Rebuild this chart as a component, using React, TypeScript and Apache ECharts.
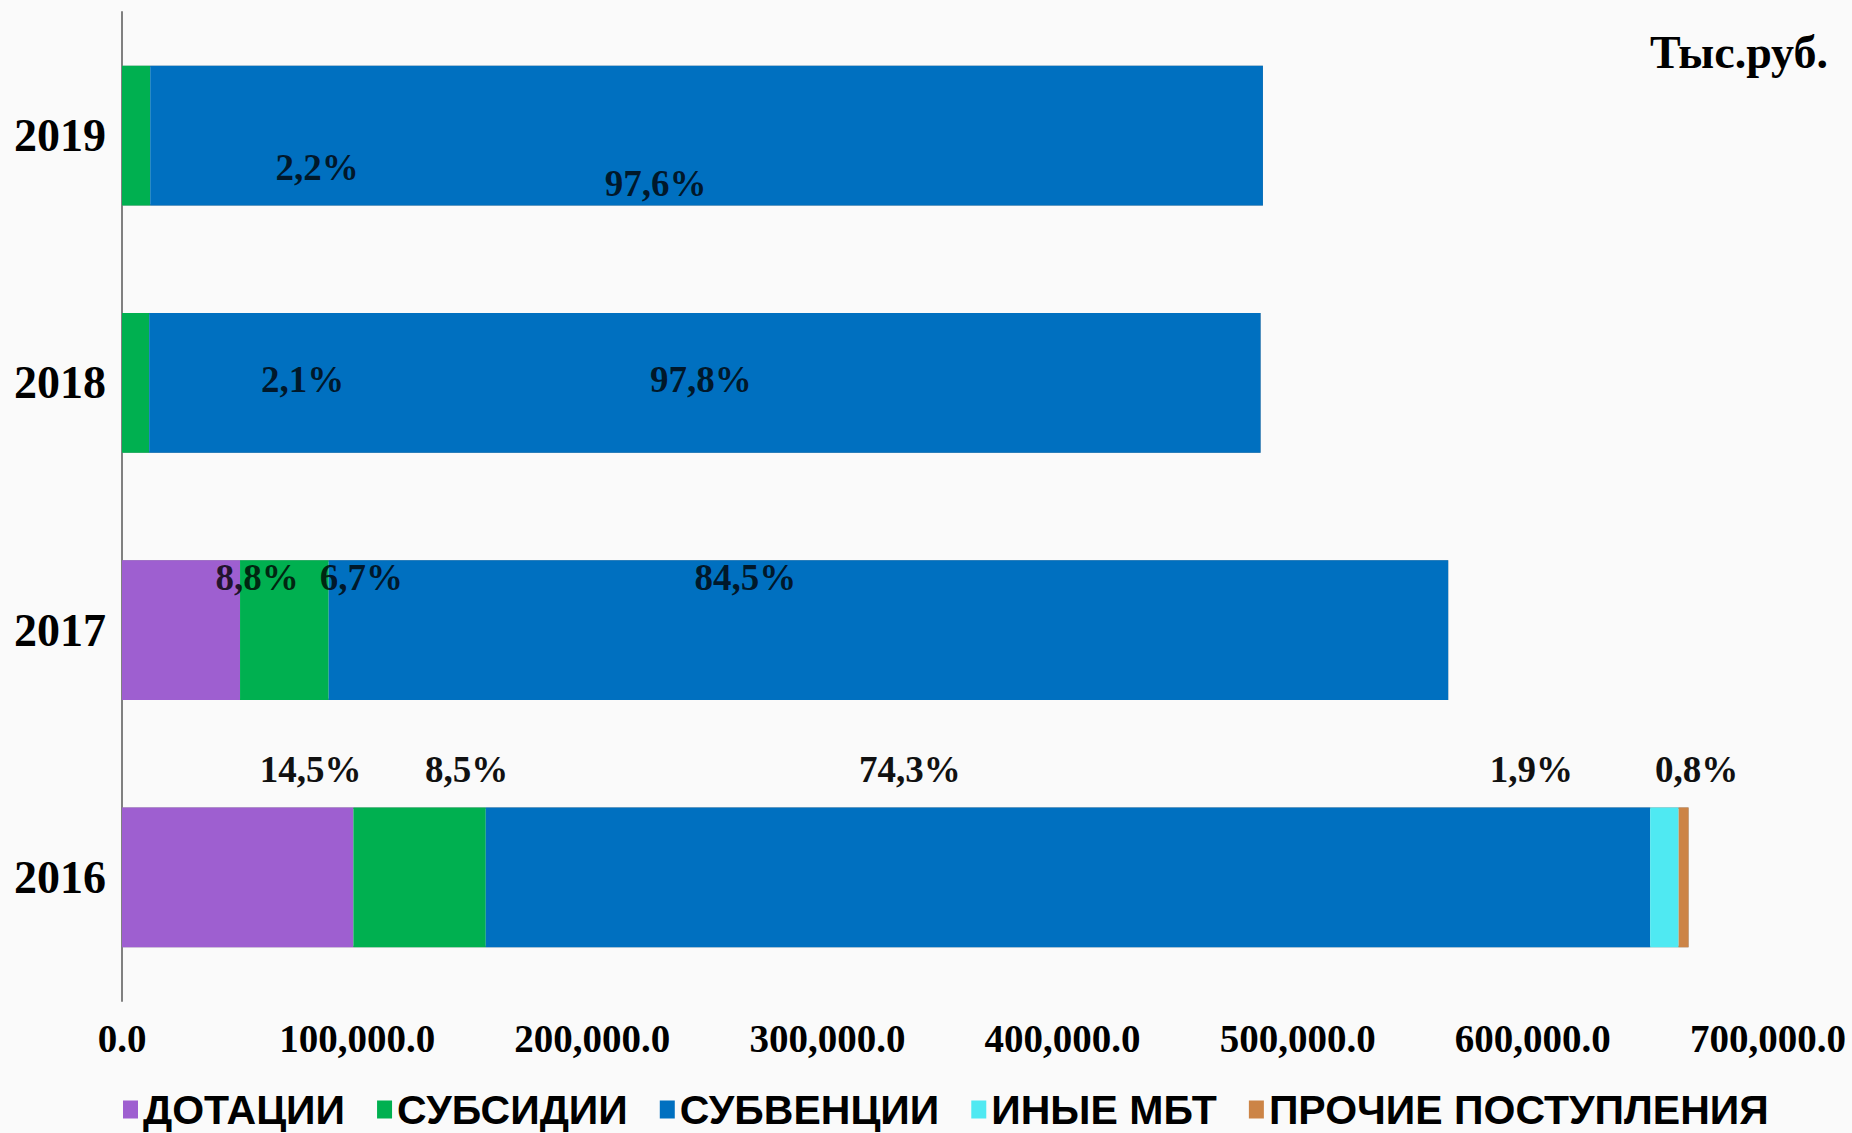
import React, { useEffect, useRef } from "react";
import * as echarts from "echarts";

// ---- data ----
const categories = ["2016", "2017", "2018", "2019"];
const seriesNames = ["ДОТАЦИИ", "СУБСИДИИ", "СУБВЕНЦИИ", "ИНЫЕ МБТ", "ПРОЧИЕ ПОСТУПЛЕНИЯ"];
const dotacii = [98400, 50200, null, null];
const subsidii = [56300, 37700, 11550, 12000];
const subvencii = [495200, 476100, 472650, 473200];
const inyeMbt = [12100, null, null, null];
const prochie = [4200, null, null, null];
const dotaciiPct = ["14,5%", "8,8%", "", ""];
const subsidiiPct = ["8,5%", "6,7%", "2,1%", "2,2%"];
const subvenciiPct = ["74,3%", "84,5%", "97,8%", "97,6%"];
const inyeMbtPct = ["1,9%", "", "", ""];
const prochiePct = ["0,8%", "", "", ""];
const xTickLabels = ["0.0", "100,000.0", "200,000.0", "300,000.0", "400,000.0", "500,000.0", "600,000.0", "700,000.0"];
const unitLabel = "Тыс.руб.";

// ---- layout (label offsets from segment centre, px) ----
const offDotacii = [[73, -108], [76, -53], [0, 0], [0, 0]];
const offSubsidii = [[47, -108], [77, -53], [167, -3], [181, 32]];
const offSubvencii = [[-158, -108], [-143, -53], [-4, -3], [-51, 48]];
const offInye = [[-133, -108], [0, 0], [0, 0], [0, 0]];
const offProchie = [[13, -108], [0, 0], [0, 0], [0, 0]];

const colors = ["#9e5fd0", "#00b050", "#0070c0", "#4fe9f2", "#cc8446"];

const SERIF = "'Liberation Serif', 'Times New Roman', serif";
const SANS = "'Liberation Sans', Arial, sans-serif";

function buildData(values: (number | null)[], pcts: string[], offs: number[][]) {
  return values.map((v, i) => {
    if (v === null) return null;
    const outside = i === 0;
    return {
      value: v,
      label: {
        show: pcts[i] !== "",
        formatter: pcts[i],
        position: "inside",
        offset: offs[i],
        color: outside ? "#111111" : "rgba(0,0,0,0.78)",
        fontFamily: SERIF,
        fontWeight: "bold",
        fontSize: 37,
      },
    };
  });
}

export default function App() {
  const ref = useRef<HTMLDivElement>(null);
  useEffect(() => {
    if (!ref.current) return;
    const chart = echarts.init(ref.current, undefined, { renderer: "svg" });
    const valueSets = [dotacii, subsidii, subvencii, inyeMbt, prochie];
    const pctSets = [dotaciiPct, subsidiiPct, subvenciiPct, inyeMbtPct, prochiePct];
    const offSets = [offDotacii, offSubsidii, offSubvencii, offInye, offProchie];
    const totals = categories.map((_, i) =>
      valueSets.reduce((s, arr) => s + (arr[i] ?? 0), 0)
    );
    const stackSeries = seriesNames.map((name, k) => ({
      name,
      type: "bar",
      stack: "total",
      barCategoryGap: "43.5%",
      barGap: "-100%",
      itemStyle: { color: colors[k] },
      data: buildData(valueSets[k], pctSets[k], offSets[k]),
    }));
    const outline = {
      name: "outline",
      type: "bar",
      barCategoryGap: "43.5%",
      barGap: "-100%",
      silent: true,
      z: 1,
      itemStyle: { color: "rgba(0,0,0,0)", borderColor: "#8c8c8c", borderWidth: 1.5 },
      label: { show: false },
      data: totals,
    };
    chart.setOption({
      animation: false,
      backgroundColor: "#fafafa",
      title: {
        text: unitLabel,
        right: 19,
        top: 24,
        textStyle: { fontFamily: SERIF, fontWeight: "bold", fontSize: 46, color: "#000" },
      },
      legend: {
        data: seriesNames,
        left: 118,
        top: 1084,
        icon: "rect",
        itemWidth: 15,
        itemHeight: 18,
        itemGap: 32,
        textStyle: { fontFamily: SANS, fontWeight: "bold", fontSize: 41, color: "#000" },
      },
      grid: { left: 122, right: 84, top: 12, bottom: 132, containLabel: false },
      xAxis: {
        type: "value",
        min: 0,
        max: 700000,
        interval: 100000,
        axisLine: { show: false },
        axisTick: { show: false },
        splitLine: { show: false },
        axisLabel: {
          margin: 18,
          fontFamily: SERIF,
          fontWeight: "bold",
          fontSize: 39,
          color: "#000",
          formatter: (v: number) => xTickLabels[Math.round(v / 100000)] ?? "",
        },
      },
      yAxis: {
        type: "category",
        data: categories,
        axisLine: { show: true, lineStyle: { color: "#808080", width: 2 } },
        axisTick: { show: false },
        axisLabel: {
          margin: 16,
          fontFamily: SERIF,
          fontWeight: "bold",
          fontSize: 46,
          color: "#000",
        },
      },
      series: [...stackSeries, outline],
    });
    return () => chart.dispose();
  }, []);
  return (
    <div
      ref={ref}
      style={{ position: "absolute", left: 0, top: 0, width: 1852, height: 1133 }}
    />
  );
}
